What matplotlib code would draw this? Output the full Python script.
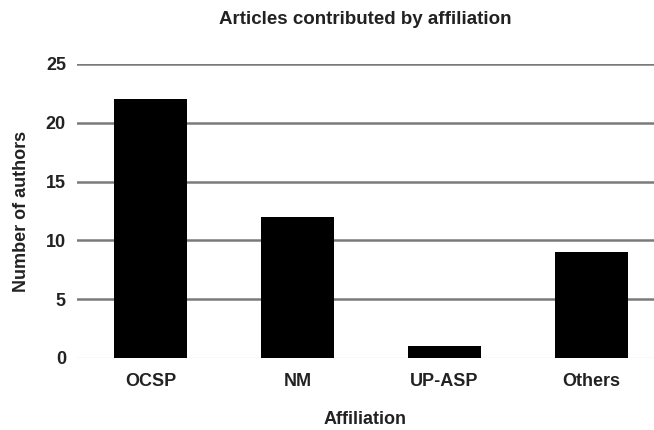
import numpy as np
from matplotlib import pyplot as plt

affiliations = ["OCSP", "NM", "UP-ASP", "Others"]
authors = [22, 12, 1, 9]
yticks = [0, 5, 10, 15, 20, 25]

plt.rcParams['font.family'] = ['Liberation Sans', 'DejaVu Sans']
plt.rcParams['font.weight'] = 'bold'

fig = plt.figure(figsize=(6.54, 4.30), dpi=100)
ax = fig.add_axes([77/654, 1-358/430, 1-77/654, (358-64)/430])

x = np.arange(len(affiliations))
ax.bar(x, authors, width=0.5, color='black', zorder=3)

# gridlines
for t in yticks[1:]:
    ax.axhline(t, color='#7a7a7a', lw=1.8, zorder=1)
ax.axhline(0, color='#dddddd', lw=1.0, zorder=1)

ax.set_xlim(-0.5, -0.5 + (654-77)/147)
ax.set_ylim(0, 25)
ax.set_yticks(yticks)
ax.set_xticks(x)
ax.set_xticklabels(affiliations, fontsize=13, fontweight='bold', color='#222222')
ax.set_yticklabels([str(t) for t in yticks], fontsize=13, fontweight='bold', color='#222222')
ax.tick_params(length=0)
ax.tick_params(axis='y', pad=8)
ax.tick_params(axis='x', pad=11)
for s in ax.spines.values():
    s.set_visible(False)

ax.set_ylabel("Number of authors", fontsize=13, fontweight='bold', color='#222222', labelpad=11)
ax.set_xlabel("Affiliation", fontsize=13, fontweight='bold', color='#222222', labelpad=15)
fig.text(365/654, 1-20/430, "Articles contributed by affiliation", ha='center', va='center',
         fontsize=13.5, fontweight='bold', color='#222222')

plt.savefig("out.png", dpi=100)
